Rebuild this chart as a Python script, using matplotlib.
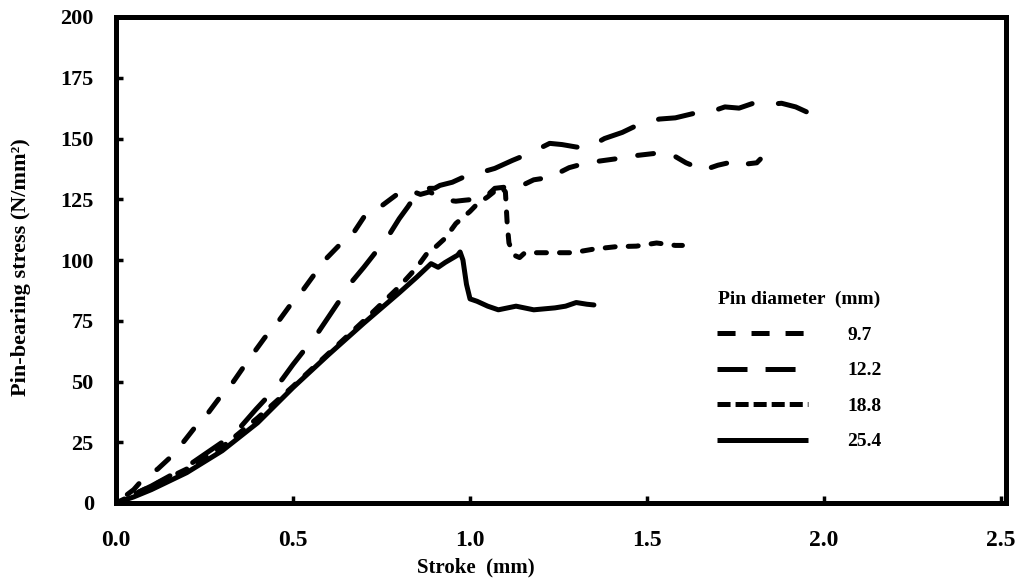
import numpy as np
import matplotlib
matplotlib.use('Agg')
import matplotlib.pyplot as plt
from matplotlib.lines import Line2D

plt.rcParams['font.family'] = ['Liberation Serif', 'DejaVu Serif']
plt.rcParams['font.weight'] = 'bold'
plt.rcParams['lines.scale_dashes'] = False

# pin diameter 9.7 mm
x97 = [0, 0.05, 0.076, 0.118, 0.155, 0.19, 0.225, 0.26, 0.296, 0.33, 0.37, 0.39, 0.42, 0.46,
       0.49, 0.53, 0.56, 0.59, 0.63, 0.67, 0.70, 0.745, 0.79, 0.81, 0.83, 0.86, 0.885, 0.91,
       0.935, 0.96, 0.985, 1.04, 1.07, 1.10, 1.13, 1.18, 1.225, 1.28, 1.33, 1.38, 1.43, 1.47,
       1.53, 1.575, 1.61, 1.66, 1.70, 1.76, 1.78, 1.81, 1.82]
y97 = [0, 5.5, 9.8, 14, 19, 25, 31.5, 37, 44, 49.6, 58, 62, 68, 75,
       81, 88, 94, 100, 106, 111, 117.6, 121.7, 126.6, 128.5, 128.7, 127, 128, 126.5,
       124.6, 124.2, 124.6, 125.4, 129.5, 130, 129.5, 133, 134, 138, 140, 141, 142, 143,
       144, 143, 140, 137, 139, 141, 139.5, 140, 141.5]

# pin diameter 12.2 mm
x122 = [0, 0.1, 0.2, 0.3, 0.35, 0.395, 0.43, 0.47, 0.5, 0.535, 0.57, 0.60, 0.63, 0.66, 0.70,
        0.735, 0.77, 0.80, 0.825, 0.85, 0.875, 0.9, 0.915, 0.95, 0.98, 1.02, 1.07, 1.12, 1.17,
        1.225, 1.26, 1.30, 1.33, 1.38, 1.43, 1.48, 1.535, 1.58, 1.64, 1.69, 1.72, 1.76, 1.80,
        1.84, 1.88, 1.92, 1.95]
y122 = [0, 7, 15, 25, 31, 38.5, 44, 51, 57, 63.5, 70, 76.5, 83, 90, 97,
        103.5, 110, 117, 122, 127.5, 129.5, 129.5, 130.7, 132, 134, 135.6, 137.7, 141, 144,
        148, 147.5, 146.5, 146, 150, 152.5, 156, 158, 158.5, 160.6, 161.5, 163, 162.5, 164.5,
        164, 164.5, 163, 161]

# pin diameter 18.8 mm
x188 = [0, 0.1, 0.2, 0.3, 0.4, 0.5, 0.6, 0.7, 0.8, 0.85, 0.88, 0.9, 0.93, 0.96, 1.0, 1.02,
        1.05, 1.08, 1.09, 1.10, 1.105, 1.11, 1.124, 1.14, 1.155, 1.225, 1.29, 1.35, 1.414,
        1.47, 1.527, 1.58, 1.60]
y188 = [0, 7, 14, 23, 35, 48, 61.5, 75, 89, 97, 103, 105, 109, 115, 120, 123,
        126, 129.5, 130, 128, 115, 107, 102, 101, 103, 103, 103, 104.5, 105.5,
        105.7, 107, 106, 106]

# pin diameter 25.4 mm
x254 = [0, 0.05, 0.1, 0.2, 0.3, 0.4, 0.5, 0.6, 0.7, 0.8, 0.85, 0.89, 0.91, 0.93, 0.965,
        0.972, 0.98, 0.99, 1.0, 1.02, 1.05, 1.08, 1.13, 1.18, 1.24, 1.27, 1.30, 1.33, 1.35]
y254 = [0, 2.5, 5.5, 12.5, 21.5, 33, 47.5, 61, 74, 86.5, 93, 98.5, 97, 99, 102,
        103.3, 100, 90, 84, 83, 81, 79.5, 81, 79.5, 80.3, 81, 82.5, 81.8, 81.5]

labels = ['9.7', '12.2', '18.8', '25.4']
lw = 3.6
DPI = 100

fig = plt.figure(figsize=(10.28, 5.83), dpi=DPI)
ax = fig.add_axes([116/1028, 1-503/583, (1006-116)/1028, (503-17)/583])
ax.set_xlim(0, 2.514)
ax.set_ylim(0, 200)


def dashed(x, y, on, off):
    # shift the dash pattern so the curve ends inside a dash
    pts = ax.transData.transform(np.column_stack([x, y]))
    L = float(np.sum(np.hypot(*np.diff(pts, axis=0).T))) * 72.0 / DPI
    period = on + off
    offset = (0.85*on - L) % period
    ax.plot(x, y, color='black', lw=lw, linestyle=(offset, (on, off)),
            dash_capstyle='round', dash_joinstyle='round')


ax.plot(x254, y254, color='black', lw=lw, solid_capstyle='round', solid_joinstyle='round')
dashed(x188, y188, 7.2, 9.4)
dashed(x122, y122, 25, 19)
dashed(x97, y97, 11.5, 16.5)

ax.set_xticks(np.arange(0, 2.51, 0.5))
ax.set_yticks(np.arange(0, 201, 25))
ax.set_xticklabels(['{:.1f}'.format(v) for v in np.arange(0, 2.51, 0.5)])
for s in ax.spines.values():
    s.set_linewidth(3.6)
ax.tick_params(direction='in', length=5, width=2.5, labelsize=16, pad=16)
ax.tick_params(axis='x', labelsize=17, pad=19.5)

ax.set_xlabel('Stroke  (mm)', fontsize=15, fontweight='bold')
ax.set_ylabel('Pin-bearing stress (N/mm²)', fontsize=16, fontweight='bold')
ax.xaxis.set_label_coords(0.404, -0.112)
ax.yaxis.set_label_coords(-0.096, 0.486)

handles = [
    Line2D([], [], color='black', lw=lw, dashes=(13, 11.5), dash_capstyle='butt'),
    Line2D([], [], color='black', lw=lw, dashes=(21.6, 13), dash_capstyle='butt'),
    Line2D([], [], color='black', lw=lw, dashes=(9.4, 3.6), dash_capstyle='butt'),
    Line2D([], [], color='black', lw=lw, solid_capstyle='butt'),
]
leg = ax.legend(handles, labels, title='Pin diameter  (mm)', loc='upper left',
                bbox_to_anchor=(717/1028, 1-291/583), bbox_transform=fig.transFigure,
                frameon=False, borderpad=0, borderaxespad=0, handlelength=4.7,
                handletextpad=2.0, labelspacing=0.92,
                prop={'size': 14, 'weight': 'bold'},
                title_fontproperties={'size': 14, 'weight': 'bold'})

fig.savefig('out.png', dpi=DPI)
